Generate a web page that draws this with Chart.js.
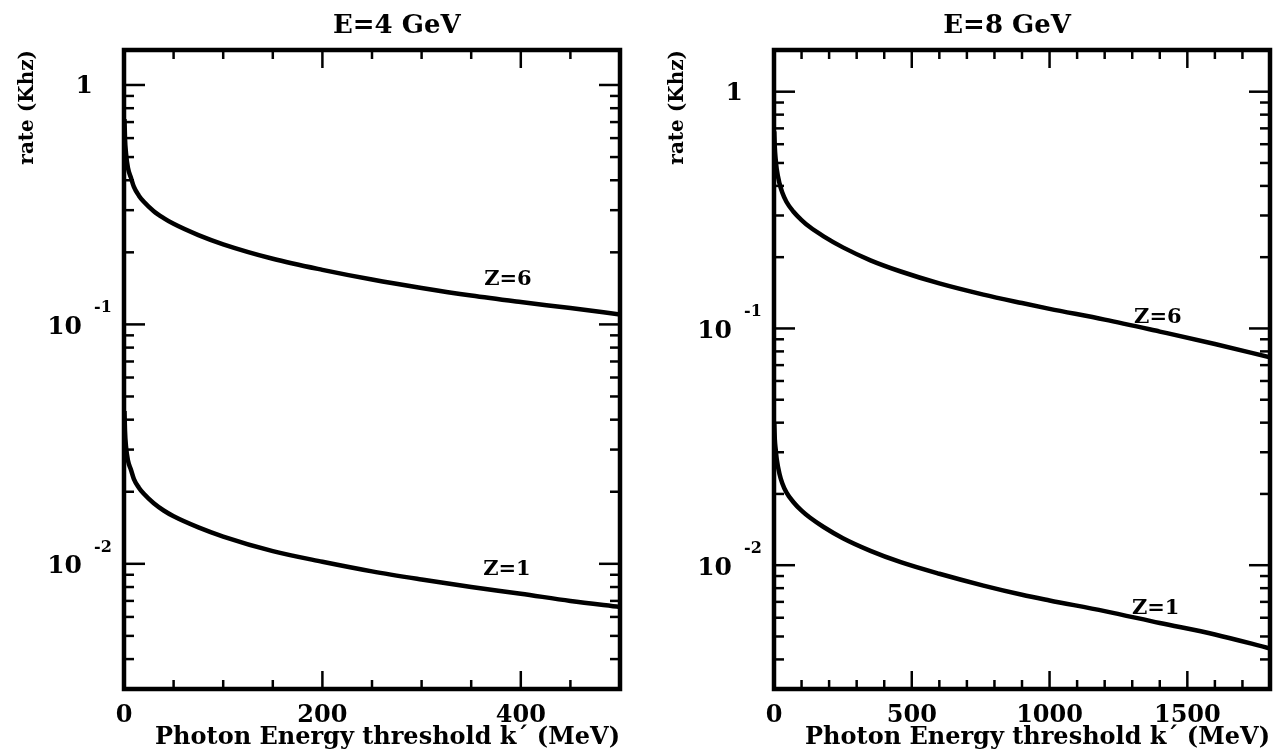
<!DOCTYPE html>
<html>
<head>
<meta charset="utf-8">
<script src="https://cdn.jsdelivr.net/npm/chart.js@4.4.1/dist/chart.umd.min.js"></script>
<style>
  html, body { margin: 0; padding: 0; background: #fff; }
  #wrap { position: relative; width: 1285px; height: 752px; overflow: hidden; }
  canvas { position: absolute; top: 0; }
  #cL { left: 0; }
  #cR { left: 650px; }
</style>
</head>
<body>
<div id="wrap">
  <canvas id="cL" width="650" height="752"></canvas>
  <canvas id="cR" width="635" height="752"></canvas>
</div>
<script>
// ---------------- data ----------------
const leftTitle = 'E=4 GeV';
const rightTitle = 'E=8 GeV';
const yAxisTitle = 'rate (Khz)';
const xAxisTitle = 'Photon Energy threshold k\u00B4 (MeV)';

// photon energy threshold k (MeV), left panel (E = 4 GeV)
const leftK  = [0.5, 1, 2, 4, 7, 10, 15, 20, 30, 40, 50, 75, 100, 150, 200, 250, 300, 350, 400, 450, 500];
const leftZ6 = [0.72, 0.6, 0.52, 0.45, 0.41, 0.375, 0.345, 0.325, 0.297, 0.278, 0.263, 0.236, 0.216, 0.188, 0.169, 0.154, 0.142, 0.132, 0.124, 0.117, 0.110];
const leftZ1 = [0.0435, 0.036, 0.031, 0.027, 0.0247, 0.0226, 0.0208, 0.0196, 0.0179, 0.0167, 0.0158, 0.0142, 0.0130, 0.0113, 0.0102, 0.0093, 0.0086, 0.0080, 0.0075, 0.0070, 0.0066];

// right panel (E = 8 GeV)
const rightK  = [1, 3, 6, 10, 20, 30, 45, 70, 100, 130, 180, 250, 350, 460, 600, 760, 900, 1000, 1200, 1400, 1600, 1800];
const rightZ6 = [0.68, 0.58, 0.52, 0.47, 0.41, 0.375, 0.343, 0.312, 0.287, 0.268, 0.245, 0.220, 0.194, 0.174, 0.155, 0.139, 0.128, 0.121, 0.109, 0.097, 0.086, 0.0755];
const rightZ1 = [0.040, 0.034, 0.031, 0.028, 0.0243, 0.0222, 0.0203, 0.0185, 0.0170, 0.0159, 0.0145, 0.0130, 0.0115, 0.0103, 0.0092, 0.0082, 0.0075, 0.0071, 0.0064, 0.0057, 0.0051, 0.00445];

// curve labels: [text, k, rate]
const leftCurveLabels  = [['Z=6', 387, 0.154], ['Z=1', 386, 0.0095]];
const rightCurveLabels = [['Z=6', 1393, 0.111], ['Z=1', 1385, 0.00656]];

// axis ranges and ticks
const leftXRange = [0, 500], leftXStep = 50, leftXMajor = 200;
const rightXRange = [0, 1800], rightXStep = 100, rightXMajor = 500;
const leftYRange = [0.003, 1.4];
const rightYRange = [0.003, 1.5];
const yTickValues = [0.003,0.004,0.005,0.006,0.007,0.008,0.009,
                     0.01,0.02,0.03,0.04,0.05,0.06,0.07,0.08,0.09,
                     0.1,0.2,0.3,0.4,0.5,0.6,0.7,0.8,0.9,1];
const yLabelValues = [1, 0.1, 0.01];
const yLabelBases  = ['1', '10', '10'];
const yLabelExps   = ['', '-1', '-2'];

// ---------------- drawing ----------------
const SERIF = '"DejaVu Serif", "Liberation Serif", serif';

const framePlugin = {
  id: 'frame',
  afterDraw(chart) {
    const o = chart.options.plugins.frame;
    const {ctx, chartArea: a} = chart;
    const x = chart.scales.x, y = chart.scales.y;
    ctx.save();
    ctx.strokeStyle = '#000';
    ctx.fillStyle = '#000';
    ctx.lineCap = 'butt';
    const seg = (x1, y1, x2, y2) => { ctx.beginPath(); ctx.moveTo(x1, y1); ctx.lineTo(x2, y2); ctx.stroke(); };
    // inward tick marks
    ctx.lineWidth = 2.5;
    x.ticks.forEach(t => {
      const px = x.getPixelForValue(t.value);
      if (px <= a.left + 2 || px >= a.right - 2) return;
      const len = (Math.abs(t.value % o.xMajor) < 1e-9) ? 18 : 9;
      seg(px, a.bottom, px, a.bottom - len);
      seg(px, a.top, px, a.top + len);
    });
    y.ticks.forEach(t => {
      const py = y.getPixelForValue(t.value);
      const lg = Math.log10(t.value);
      const len = Math.abs(lg - Math.round(lg)) < 1e-6 ? 21 : 10;
      seg(a.left, py, a.left + len, py);
      seg(a.right, py, a.right - len, py);
    });
    // frame
    ctx.lineWidth = 4.5;
    ctx.strokeRect(a.left, a.top, a.right - a.left, a.bottom - a.top);
    // y tick labels with superscripts
    yLabelValues.forEach((v, i) => {
      const py = y.getPixelForValue(v);
      if (yLabelExps[i] === '') {
        ctx.font = 'bold 25px ' + SERIF;
        ctx.textAlign = 'right';
        ctx.textBaseline = 'middle';
        ctx.fillText(yLabelBases[i], a.left - 31, py + 2);
      } else {
        ctx.font = 'bold 25px ' + SERIF;
        ctx.textAlign = 'right';
        ctx.textBaseline = 'middle';
        ctx.fillText(yLabelBases[i], a.left - 42, py + 3);
        ctx.font = 'bold 16px ' + SERIF;
        ctx.textAlign = 'left';
        ctx.textBaseline = 'alphabetic';
        ctx.fillText(yLabelExps[i], a.left - 30, py - 12);
      }
    });
    // panel title
    ctx.font = 'bold 26px ' + SERIF;
    ctx.textAlign = 'center';
    ctx.textBaseline = 'middle';
    ctx.fillText(o.title, a.left + o.titlePos * (a.right - a.left), 26);
    // curve labels
    ctx.font = 'bold 21px ' + SERIF;
    o.labels.forEach(([txt, k, v]) => {
      ctx.fillText(txt, x.getPixelForValue(k), y.getPixelForValue(v));
    });
    ctx.restore();
  }
};

function makeChart(id, K, Z6, Z1, xr, xStep, xMajor, yr, title, titlePos, labels, padRight) {
  const pts = (arr) => K.map((k, i) => ({x: k, y: arr[i]}));
  const ds = (arr, name) => ({
    label: name, data: pts(arr), borderColor: '#000', borderWidth: 4.5,
    pointRadius: 0, fill: false, cubicInterpolationMode: 'monotone'
  });
  return new Chart(document.getElementById(id), {
    type: 'line',
    data: { datasets: [ds(Z6, 'Z=6'), ds(Z1, 'Z=1')] },
    options: {
      responsive: false, animation: false, devicePixelRatio: 1,
      layout: { padding: { top: 50, right: padRight, bottom: 0, left: 0 } },
      plugins: {
        legend: { display: false }, tooltip: { enabled: false }, title: { display: false },
        frame: { xMajor: xMajor, title: title, titlePos: titlePos, labels: labels }
      },
      scales: {
        x: {
          type: 'linear', min: xr[0], max: xr[1],
          grid: { display: false, drawTicks: false }, border: { display: false },
          ticks: {
            stepSize: xStep, autoSkip: false, maxRotation: 0, padding: 12, color: '#000',
            font: { family: SERIF, weight: 'bold', size: 24 },
            callback: (v) => (v % xMajor === 0 ? String(v) : '')
          },
          title: { display: true, text: xAxisTitle, align: 'end', color: '#000',
                   font: { family: SERIF, weight: 'bold', size: 24 }, padding: { top: 0, bottom: 0 } },
          afterFit: (s) => { s.height = 63; }
        },
        y: {
          type: 'logarithmic', min: yr[0], max: yr[1],
          grid: { display: false, drawTicks: false }, border: { display: false },
          ticks: { display: false },
          afterBuildTicks: (s) => { s.ticks = yTickValues.filter(v => v >= yr[0] && v <= yr[1]).map(v => ({value: v})); },
          title: { display: true, text: yAxisTitle, align: 'end', color: '#000',
                   font: { family: SERIF, weight: 'bold', size: 20 }, padding: { top: 16, bottom: 0 } },
          afterFit: (s) => { s.width = 124; }
        }
      }
    },
    plugins: [framePlugin]
  });
}

makeChart('cL', leftK, leftZ6, leftZ1, leftXRange, leftXStep, leftXMajor, leftYRange, leftTitle, 0.55, leftCurveLabels, 30);
makeChart('cR', rightK, rightZ6, rightZ1, rightXRange, rightXStep, rightXMajor, rightYRange, rightTitle, 0.47, rightCurveLabels, 15);
</script>
</body>
</html>
